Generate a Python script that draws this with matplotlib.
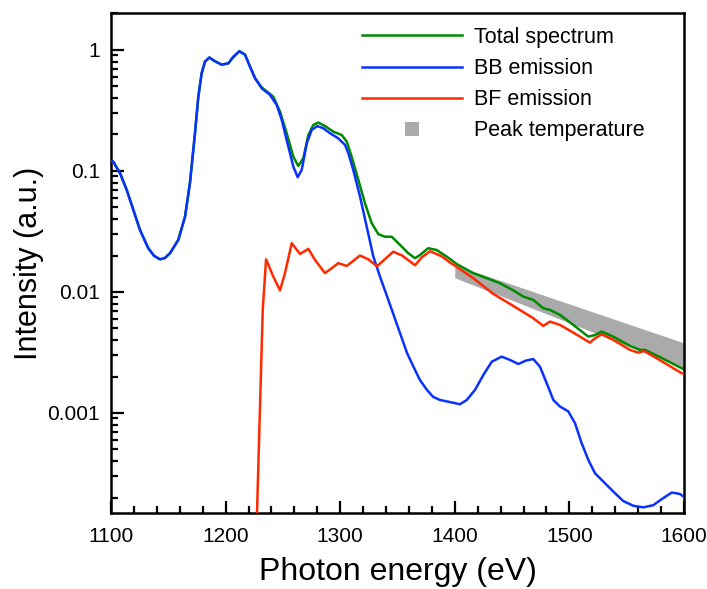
import matplotlib
matplotlib.use("Agg")
import matplotlib.pyplot as plt
from matplotlib.lines import Line2D
from matplotlib.ticker import FixedLocator, FixedFormatter, MultipleLocator, LogLocator, NullFormatter

plt.rcParams["font.family"] = ["Liberation Sans", "DejaVu Sans"]

# BB emission (blue)
bb_e = [1100, 1102.0, 1107.9, 1113.7, 1119.5, 1125.3, 1132.5, 1137.5, 1142.8, 1147.1,
        1151.5, 1158.7, 1164.6, 1168.9, 1173.3, 1176.2, 1179.1, 1182.0, 1185.8, 1190.8,
        1196.6, 1202.4, 1206.7, 1212.0, 1216.9, 1221.3, 1225.7, 1231.5, 1238.7, 1244.6,
        1249.0, 1253.3, 1259.1, 1262.9, 1266.4, 1270.8, 1275.1, 1280.0, 1285.3, 1291.1,
        1298.3, 1304.2, 1307.1, 1311.4, 1317.3, 1323.1, 1328.9, 1334.7, 1342.0, 1358.3,
        1364.4, 1369.6, 1375.7, 1381.0, 1387.1, 1395.8, 1404.5, 1410.4, 1417.6, 1424.9,
        1432.2, 1440.9, 1448.2, 1455.4, 1462.1, 1468.5, 1474.3, 1480.2, 1486.0, 1491.8,
        1499.0, 1504.9, 1510.7, 1516.5, 1522.3, 1529.6, 1538.3, 1547.0, 1555.8, 1564.5,
        1573.2, 1580.5, 1589.3, 1596.5, 1600]
bb_i = [0.121, 0.119, 0.0957, 0.0697, 0.0476, 0.0325, 0.0230, 0.0199, 0.0186, 0.0191,
        0.0209, 0.0269, 0.0419, 0.0796, 0.206, 0.411, 0.641, 0.800, 0.865, 0.805,
        0.755, 0.775, 0.875, 0.975, 0.915, 0.728, 0.583, 0.482, 0.425, 0.351,
        0.264, 0.180, 0.1086, 0.0887, 0.102, 0.169, 0.218, 0.235, 0.225, 0.205,
        0.186, 0.164, 0.140, 0.102, 0.0613, 0.0347, 0.0196, 0.0134, 0.00859, 0.00313,
        0.00236, 0.00187, 0.00155, 0.00136, 0.00128, 0.00123, 0.00118, 0.00128, 0.00155, 0.00206,
        0.00265, 0.00292, 0.00274, 0.00254, 0.00271, 0.00279, 0.00241, 0.00176, 0.00128, 0.00113,
        0.00103, 0.000822, 0.000562, 0.000409, 0.000318, 0.000271, 0.000224, 0.000187, 0.000171, 0.000166,
        0.000173, 0.000194, 0.000220, 0.000214, 0.000202]

# Total spectrum (green): same as BB below 1226 eV, then these points
total_e_hi = [1231.5, 1241.6, 1247.5, 1253.3, 1259.1, 1263.4, 1267.8, 1272.2, 1276.5, 1280.9,
              1286.7, 1294.0, 1301.3, 1305.7, 1310.0, 1315.8, 1321.6, 1327.5, 1333.3, 1339.1,
              1344.9, 1350.7, 1359.4, 1365.3, 1369.6, 1376.9, 1384.2, 1392.9, 1401.7, 1416.1,
              1427.8, 1439.4, 1451.1, 1459.8, 1468.5, 1477.2, 1483.1, 1491.8, 1503.4, 1516.5,
              1522.3, 1528.2, 1538.3, 1552.9, 1561.6, 1566.0, 1579.1, 1598.0, 1600]
total_i_hi = [0.490, 0.411, 0.309, 0.205, 0.131, 0.110, 0.127, 0.198, 0.240, 0.251,
              0.235, 0.211, 0.198, 0.175, 0.131, 0.0843, 0.0541, 0.0370, 0.0300, 0.0286,
              0.0286, 0.0253, 0.0209, 0.0190, 0.0202, 0.0230, 0.0222, 0.0196, 0.0170, 0.0143,
              0.0130, 0.0118, 0.0103, 0.00915, 0.00859, 0.00733, 0.00710, 0.00646, 0.00534, 0.00427,
              0.00441, 0.00470, 0.00427, 0.00358, 0.00332, 0.00332, 0.00289, 0.00234, 0.00229]

# BF emission (red)
bf_e = [1226.0, 1227.4, 1232.4, 1235.3, 1241.6, 1247.5, 1251.8, 1257.7, 1264.9, 1272.2,
        1278.0, 1286.7, 1292.6, 1298.3, 1305.7, 1317.3, 1324.5, 1332.1, 1339.1, 1346.3,
        1354.4, 1365.3, 1371.1, 1378.4, 1388.6, 1395.8, 1401.7, 1416.1, 1433.6, 1451.1,
        1468.5, 1477.2, 1483.1, 1491.8, 1503.4, 1518.0, 1522.3, 1528.2, 1538.3, 1552.9,
        1560.1, 1565.1, 1576.2, 1598.0, 1600]
bf_i = [5e-5, 0.000149, 0.00710, 0.0186, 0.0134, 0.0103, 0.0143, 0.0253, 0.0206, 0.0227,
        0.0184, 0.0143, 0.0157, 0.0173, 0.0164, 0.0200, 0.0186, 0.0163, 0.0187, 0.0215,
        0.0199, 0.0166, 0.0193, 0.0217, 0.0197, 0.0175, 0.0161, 0.0130, 0.00963, 0.00766,
        0.00606, 0.00524, 0.00569, 0.00534, 0.00461, 0.00381, 0.00414, 0.00447, 0.00401, 0.00332,
        0.00315, 0.00325, 0.00283, 0.00213, 0.00210]

# Peak temperature band (gray)
band_e = [1400, 1600]
band_lo = [0.0131, 0.00235]
band_hi = [0.0167, 0.00379]

ytick_vals = [0.001, 0.01, 0.1, 1]
ytick_labels = ["0.001", "0.01", "0.1", "1"]

green = "#008a00"
blue = "#0a32ff"
red = "#ff2a00"
gray = "#aaaaaa"

n_low = sum(1 for e in bb_e if e < 1226)
total_e = bb_e[:n_low] + total_e_hi
total_i = bb_i[:n_low] + total_i_hi

fig = plt.figure(figsize=(7.07, 5.89), dpi=100)
ax = fig.add_axes([0.157, 0.129, 0.8105, 0.849])

ax.fill_between(band_e, band_lo, band_hi, color=gray, lw=0, zorder=1)
ax.plot(total_e, total_i, color=green, lw=1.8, zorder=2)
ax.plot(bb_e, bb_i, color=blue, lw=1.8, zorder=3)
ax.plot(bf_e, bf_i, color=red, lw=1.8, zorder=4)

ax.set_yscale("log")
ax.set_xlim(1100, 1600)
ax.set_ylim(1.49e-4, 2.02)

ax.xaxis.set_major_locator(MultipleLocator(100))
ax.xaxis.set_minor_locator(MultipleLocator(20))
ax.yaxis.set_major_locator(FixedLocator(ytick_vals))
ax.yaxis.set_major_formatter(FixedFormatter(ytick_labels))
ax.yaxis.set_minor_locator(LogLocator(base=10, subs=range(2, 10), numticks=20))
ax.yaxis.set_minor_formatter(NullFormatter())

ax.tick_params(which="both", direction="in", top=False, right=False, width=1.6)
ax.tick_params(which="major", length=9, labelsize=15)
ax.tick_params(which="minor", length=5)
ax.tick_params(axis="x", pad=10)
ax.tick_params(axis="y", pad=8)
for s in ax.spines.values():
    s.set_linewidth(1.8)

ax.set_xlabel("Photon energy (eV)", fontsize=23, labelpad=8)
ax.set_ylabel("Intensity (a.u.)", fontsize=22, labelpad=2)

handles = [
    Line2D([], [], color=green, lw=1.8),
    Line2D([], [], color=blue, lw=1.8),
    Line2D([], [], color=red, lw=1.8),
    Line2D([], [], color=gray, ls="none", marker="s", markersize=9.5, markeredgewidth=0),
]
labels = ["Total spectrum", "BB emission", "BF emission", "Peak temperature"]
ax.legend(handles, labels, loc="upper left", bbox_to_anchor=(0.438, 0.972), frameon=False,
          fontsize=15.5, handlelength=4.65, handletextpad=0.55, labelspacing=0.47,
          borderpad=0, borderaxespad=0)

fig.savefig("out.png", dpi=100)
